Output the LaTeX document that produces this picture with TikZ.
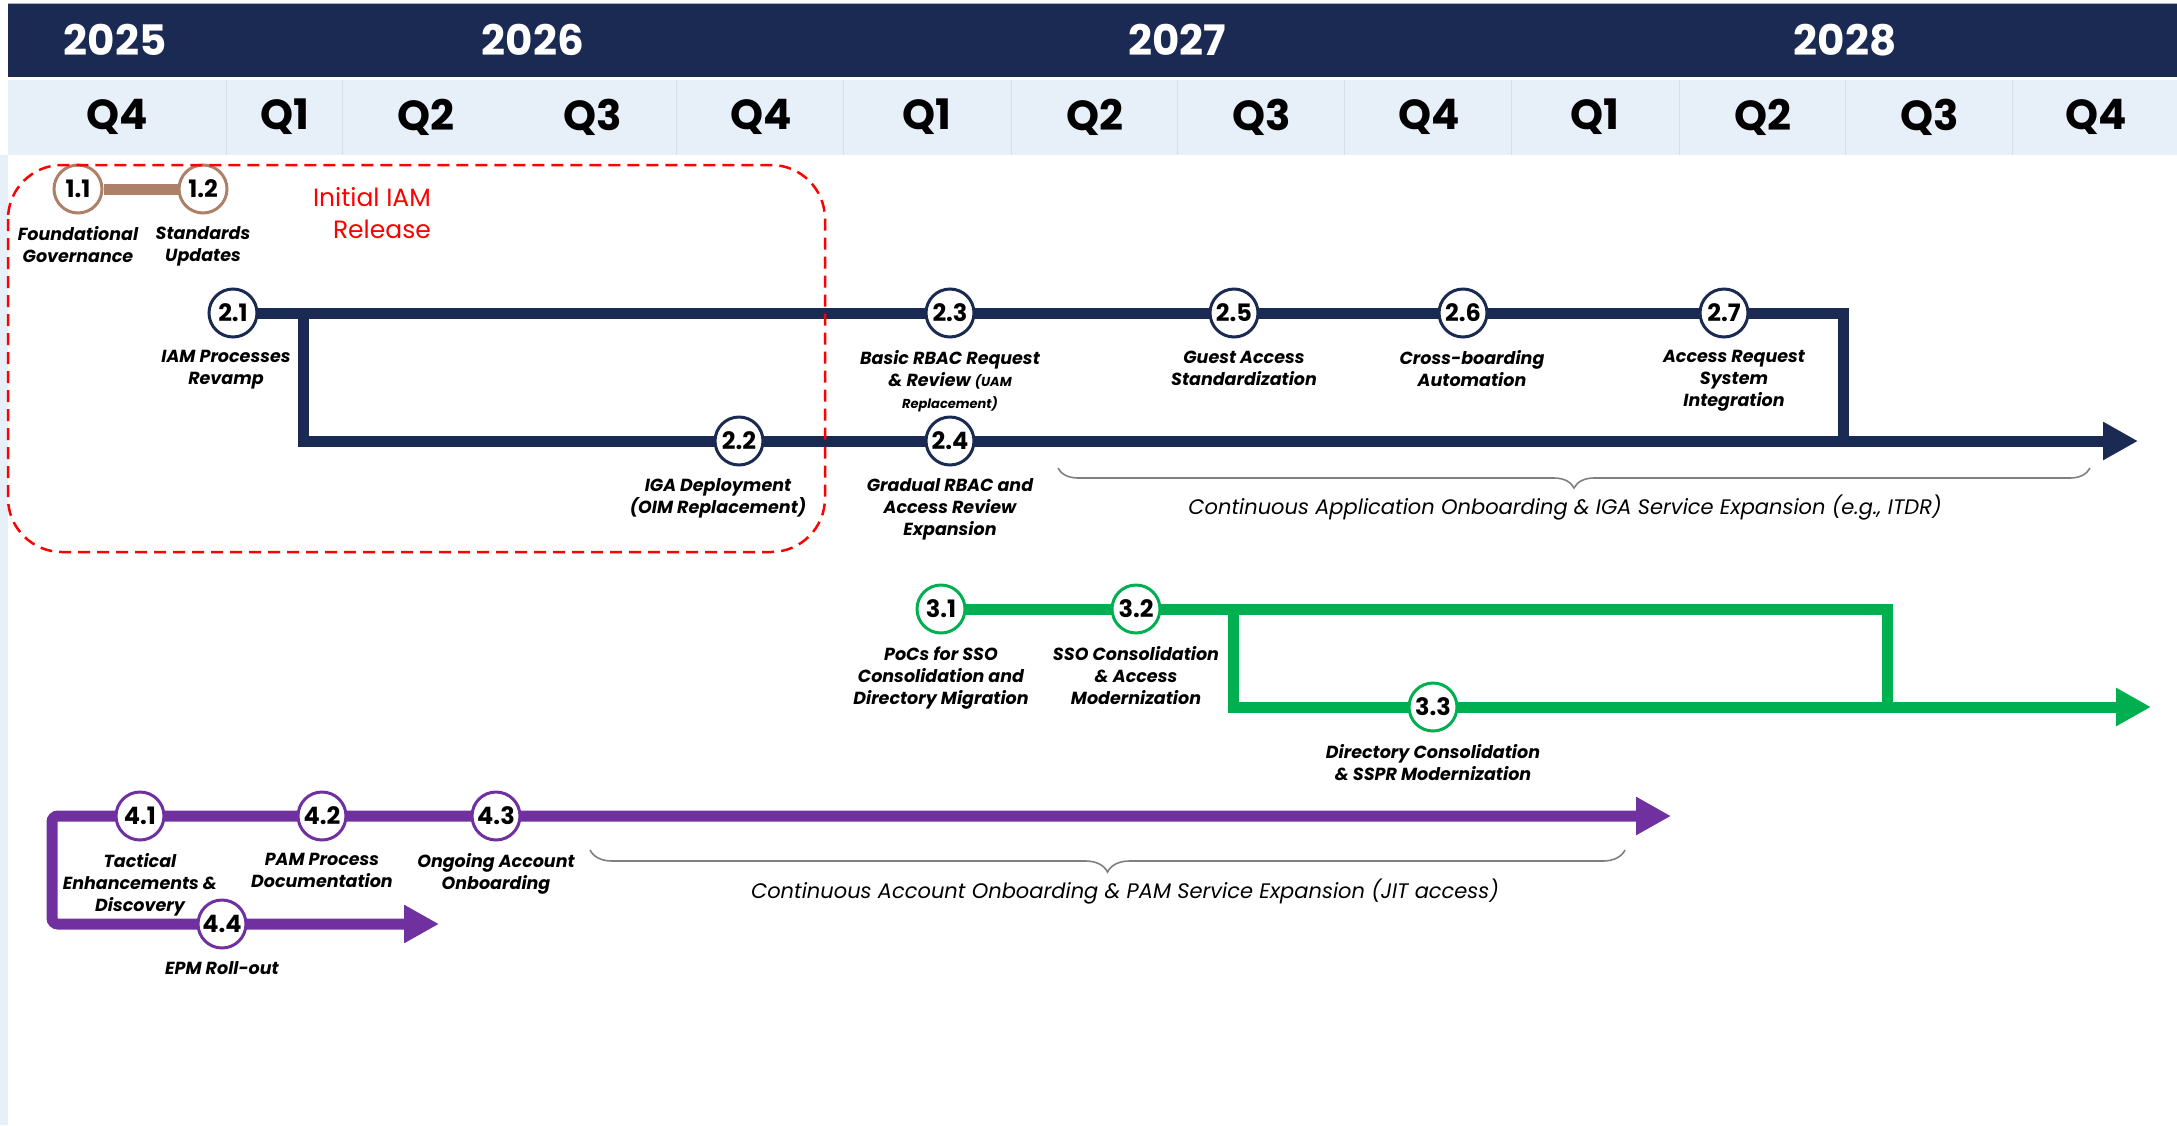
\documentclass[tikz,border=0pt]{standalone}
\usepackage{fontspec}
\setmainfont{Poppins}
\usetikzlibrary{arrows.meta, positioning, decorations.pathreplacing, backgrounds}
\definecolor{navy}{HTML}{1B2A52}
\definecolor{headblue}{HTML}{E7EFF9}
\definecolor{qline}{HTML}{D3DFEC}
\definecolor{iamgreen}{HTML}{00B050}
\definecolor{iampurple}{HTML}{7030A0}
\definecolor{iambrown}{HTML}{AD8068}
\definecolor{bracegrey}{HTML}{7F7F7F}
\newcommand\lblfont{\bfseries\itshape\fontsize{17.5}{22}\selectfont}
\newcommand\numfont{\bfseries\fontsize{24}{26}\selectfont}

\begin{document}
\begin{tikzpicture}[
x=1pt, y=1pt,
node distance=12pt and 10pt,
ms/.style={circle, draw=#1, fill=white, line width=3pt, minimum size=48pt, inner sep=0pt, font=\numfont},
lbl/.style={align=center, inner sep=0pt, font=\lblfont},
track/.style={draw=#1, line width=11pt},
arrow/.style={-{Triangle[length=35pt, width=36pt]}},
twoway/.style={{Triangle[length=35pt, width=36pt]}-{Triangle[length=35pt, width=36pt]}},
note/.style={inner sep=0pt, font=\itshape\fontsize{21}{24}\selectfont},
curly/.style={draw=bracegrey, line width=1.6pt, decorate, decoration={brace, mirror, amplitude=#1}},
yr/.style={text=white, font=\bfseries\fontsize{42}{48}\selectfont},
qtr/.style={font=\bfseries\fontsize{42}{46}\selectfont}
]

\useasboundingbox (0,0) rectangle (2177,-1125);
\fill[headblue] (0,-155) rectangle (8,-1125);
\fill[navy] (8,-3) rectangle (2177,-77);
\draw[gray!60, line width=1pt] (8,-3) -- (2177,-3);
\fill[headblue] (8,-80) rectangle (2177,-155);
\foreach \x in {226,342,676,843,1011,1177,1344,1511,1679,1845,2012}
  \draw[qline, line width=1pt] (\x,-80) -- (\x,-155);

\node[yr] (y2025) at (115,-40) {2025};
\node[yr] (y2026) at (533,-40) {2026};
\node[yr] (y2027) at (1177,-40) {2027};
\node[yr] (y2028) at (1845,-40) {2028};
\foreach \q/\x [count=\i] in {Q4/117, Q1/285, Q2/426, Q3/593, Q4/761, Q1/927, Q2/1095, Q3/1262, Q4/1429, Q1/1595, Q2/1763, Q3/1930, Q4/2096}
  \node[qtr] (q\i) at (\x,-117) {\q};

\node[ms=iambrown] (c11) at (78,-189) {1.1};
\node[ms=iambrown] (c12) at (203,-189) {1.2};
\node[ms=navy] (c21) at (233,-313) {2.1};
\node[ms=navy] (c22) at (739,-441) {2.2};
\node[ms=navy] (c23) at (950,-313) {2.3};
\node[ms=navy] (c24) at (950,-441) {2.4};
\node[ms=navy] (c25) at (1234,-313) {2.5};
\node[ms=navy] (c26) at (1463,-313) {2.6};
\node[ms=navy] (c27) at (1724,-313) {2.7};
\node[ms=iamgreen] (c31) at (941,-609) {3.1};
\node[ms=iamgreen] (c32) at (1136,-609) {3.2};
\node[ms=iamgreen] (c33) at (1433,-707) {3.3};
\node[ms=iampurple] (c41) at (140,-816) {4.1};
\node[ms=iampurple] (c42) at (322,-816) {4.2};
\node[ms=iampurple] (c43) at (496,-816) {4.3};
\node[ms=iampurple] (c44) at (222,-924) {4.4};

\node[lbl, below=of c11] (l11) {Foundational\\Governance};
\node[lbl, below=of c12] (l12) {Standards\\Updates};
\node[lbl, below=of c21, xshift=-7pt] (l21) {IAM Processes\\Revamp};
\node[lbl, below=of c22, xshift=-21pt] (l22) {IGA Deployment\\(OIM Replacement)};
\node[lbl, below=of c23] (l23) {Basic RBAC Request\\\& Review {\fontsize{13}{22}\selectfont(UAM}\\{\fontsize{13}{16}\selectfont Replacement)}};
\node[lbl, below=of c24] (l24) {Gradual RBAC and\\Access Review\\Expansion};
\node[lbl, below=of c25, xshift=10pt] (l25) {Guest Access\\Standardization};
\node[lbl, below=of c26, xshift=9pt] (l26) {Cross-boarding\\Automation};
\node[lbl, below=of c27, xshift=10pt] (l27) {Access Request\\System\\Integration};
\node[lbl, below=of c31] (l31) {PoCs for SSO\\Consolidation and\\Directory Migration};
\node[lbl, below=of c32] (l32) {SSO Consolidation\\\& Access\\Modernization};
\node[lbl, below=of c33] (l33) {Directory Consolidation\\\& SSPR Modernization};
\node[lbl, below=of c41] (l41) {Tactical\\Enhancements \&\\Discovery};
\node[lbl, below=of c42] (l42) {PAM Process\\Documentation};
\node[lbl, below=of c43] (l43) {Ongoing Account\\Onboarding};
\node[lbl, below=of c44] (l44) {EPM Roll-out};

\coordinate (navysplit) at (303,-313);
\coordinate (navyturn) at (1843,-313);
\coordinate (navyend) at (2138,-441);
\coordinate (greensplit) at (1233,-609);
\coordinate (greenturn) at (1887,-609);
\coordinate (greenend) at (2151,-707);
\coordinate (pcorner) at (52,-816);
\coordinate (pamend) at (1671,-816);
\coordinate (epmend) at (439,-924);

\begin{scope}[on background layer]
\draw[track=iambrown] (c11) -- (c12);
\draw[track=navy] (c21.center) -- (navyturn) -- (navyturn |- c24.center);
\draw[track=navy, arrow] (navysplit) |- (navyend);
\draw[track=iamgreen] (c31.center) -- (greenturn) -- (greenturn |- c33.center);
\draw[track=iamgreen, arrow] (greensplit) |- (greenend);
\draw[track=iampurple, rounded corners=6pt, twoway] (epmend) -| (pcorner) -- (pamend);
\end{scope}

\draw[red, line width=2.5pt, dash pattern=on 12pt off 7pt, rounded corners=54pt] (8,-165) rectangle (825,-552);
\node[text=red, align=right, anchor=east, inner sep=0pt, font=\fontsize{25}{32}\selectfont] (release) at (431,-213) {Initial IAM\\Release};

\coordinate (b1l) at (1058,-468);
\coordinate (b1r) at (2090,-468);
\draw[curly=20pt] (b1l) -- (b1r);
\node[note] (n1) at (1565,-508) {Continuous Application Onboarding \& IGA Service Expansion (e.g., ITDR)};
\coordinate (b2l) at (590,-850);
\coordinate (b2r) at (1625,-850);
\draw[curly=22pt] (b2l) -- (b2r);
\node[note] (n2) at (1125,-892) {Continuous Account Onboarding \& PAM Service Expansion (JIT access)};

\end{tikzpicture}
\end{document}
